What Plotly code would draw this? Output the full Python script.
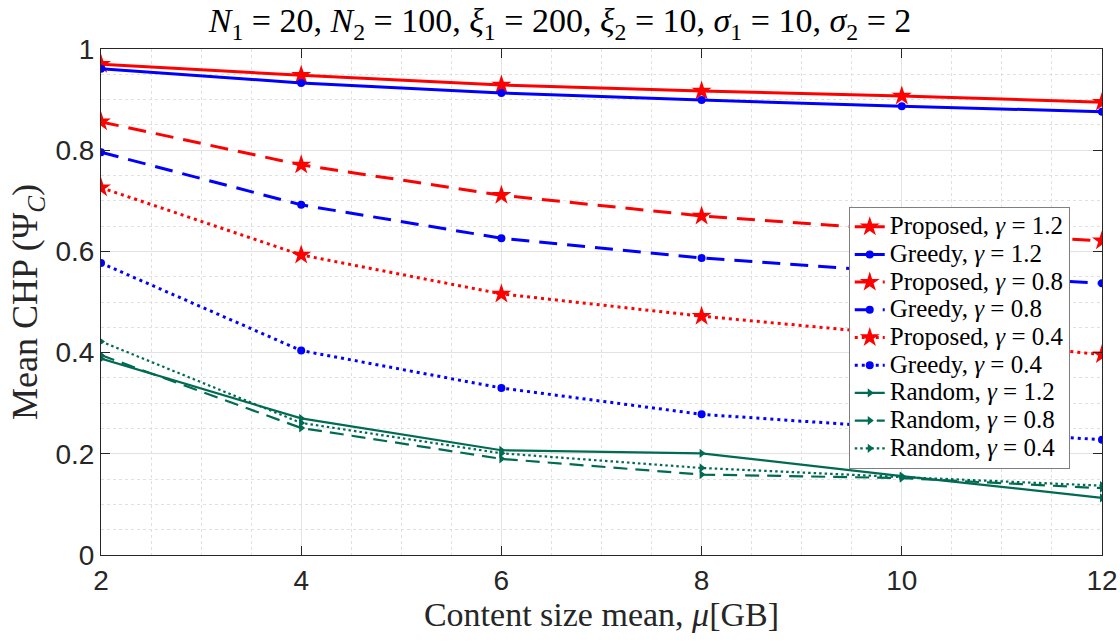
import plotly.graph_objects as go

x = [2, 4, 6, 8, 10, 12]

proposed_12 = [0.970, 0.948, 0.929, 0.917, 0.907, 0.895]
greedy_12 = [0.961, 0.933, 0.913, 0.899, 0.887, 0.876]
proposed_08 = [0.856, 0.771, 0.711, 0.670, 0.642, 0.621]
greedy_08 = [0.796, 0.692, 0.626, 0.587, 0.559, 0.537]
proposed_04 = [0.726, 0.593, 0.516, 0.472, 0.435, 0.396]
greedy_04 = [0.577, 0.404, 0.330, 0.278, 0.251, 0.228]
random_12 = [0.388, 0.270, 0.207, 0.201, 0.156, 0.113]
random_08 = [0.395, 0.251, 0.190, 0.159, 0.152, 0.132]
random_04 = [0.422, 0.261, 0.201, 0.172, 0.154, 0.137]

x_ticks = [2, 4, 6, 8, 10, 12]
y_ticks = [0, 0.2, 0.4, 0.6, 0.8, 1]
y_tick_text = ["0", "0.2", "0.4", "0.6", "0.8", "1"]

RED = "#ff0000"
BLUE = "#0000ff"
GREEN = "#006b52"
SERIF = "Liberation Serif, DejaVu Serif, serif"
SANS = "Liberation Sans, Arial, sans-serif"


def lg(label, gamma):
    return f'<span style="font-size:25px">{label}, <i>γ</i> = {gamma}</span>'


series = [
    (lg("Proposed", "1.2"), proposed_12, RED, "solid", "star", 15, 3),
    (lg("Greedy", "1.2"), greedy_12, BLUE, "solid", "circle", 8, 3),
    (lg("Proposed", "0.8"), proposed_08, RED, "18px,10px", "star", 15, 3),
    (lg("Greedy", "0.8"), greedy_08, BLUE, "18px,10px", "circle", 8, 3),
    (lg("Proposed", "0.4"), proposed_04, RED, "3px,4px", "star", 15, 3),
    (lg("Greedy", "0.4"), greedy_04, BLUE, "3px,4px", "circle", 8, 3),
    (lg("Random", "1.2"), random_12, GREEN, "solid", "triangle-right", 8, 2.2),
    (lg("Random", "0.8"), random_08, GREEN, "14px,8px", "triangle-right", 8, 2.2),
    (lg("Random", "0.4"), random_04, GREEN, "2.5px,3px", "triangle-right", 8, 2.2),
]

fig = go.Figure()
for name, ys, color, dash, sym, msize, lw in series:
    fig.add_trace(go.Scatter(
        x=x, y=ys, name=name, mode="lines+markers",
        line=dict(color=color, width=lw, dash=dash),
        marker=dict(symbol=sym, size=msize, color=color, line=dict(width=0)),
    ))

axis_common = dict(
    showline=True, linecolor="#262626", linewidth=1, mirror="ticks",
    ticks="inside", ticklen=9, tickcolor="#262626", tickwidth=1,
    showgrid=True, gridcolor="#e3e3e3", gridwidth=1,
    zeroline=False, automargin=False,
    tickfont=dict(family=SANS, size=28, color="#262626"),
    minor=dict(showgrid=True, gridcolor="#e0e0e0", griddash="dot", gridwidth=1, ticks=""),
)

fig.update_layout(
    width=1120, height=643,
    margin=dict(l=101, r=18, t=49, b=88),
    paper_bgcolor="white", plot_bgcolor="white",
    title=dict(
        text="<i>N</i><sub>1</sub> = 20, <i>N</i><sub>2</sub> = 100, <i>ξ</i><sub>1</sub> = 200, "
             "<i>ξ</i><sub>2</sub> = 10, <i>σ</i><sub>1</sub> = 10, <i>σ</i><sub>2</sub> = 2",
        x=0.5, xanchor="center", y=0.968, yanchor="middle",
        font=dict(family=SERIF, size=34, color="black"),
    ),
    xaxis=dict(
        range=[2, 12], tickvals=x_ticks,
        title=dict(text="Content size mean, <i>μ</i>[GB]", font=dict(family=SERIF, size=34, color="#262626"), standoff=2),
        **axis_common,
    ),
    yaxis=dict(
        range=[0, 1], tickvals=y_ticks, ticktext=y_tick_text,
        title=dict(text="Mean CHP (Ψ<sub><i>C</i></sub>)", font=dict(family=SERIF, size=36, color="#262626"), standoff=6),
        **axis_common,
    ),
    legend=dict(
        x=0.747, y=0.688, xanchor="left", yanchor="top",
        bgcolor="white", bordercolor="#7f7f7f", borderwidth=1,
        font=dict(family=SERIF, size=19, color="black"),
        tracegroupgap=0, itemwidth=30,
    ),
    showlegend=True,
)
fig.update_xaxes(minor=dict(dtick=0.5))
fig.update_yaxes(minor=dict(dtick=0.05))

fig.write_html("out.html")
